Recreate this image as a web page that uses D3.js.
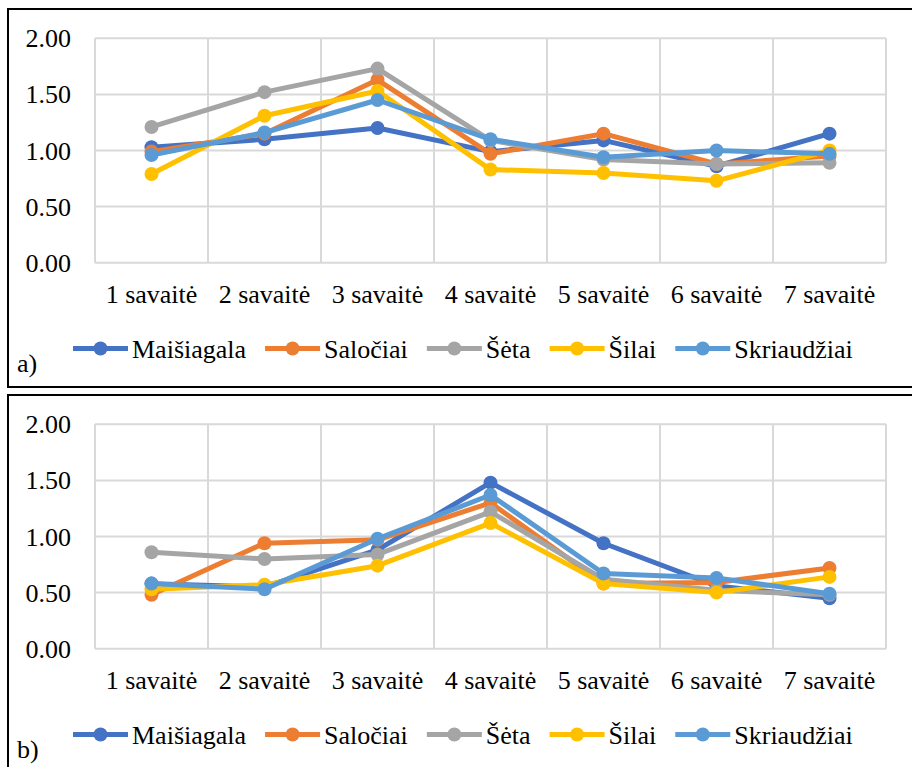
<!DOCTYPE html>
<html><head><meta charset="utf-8">
<script src="https://cdn.jsdelivr.net/npm/d3@7/dist/d3.min.js"></script>
<style>body{margin:0;background:#fff}svg{display:block}text{font-family:"Liberation Serif","Times New Roman",serif;fill:#000}</style>
</head><body><svg id="c" width="912" height="767"></svg>
<script>
const categories = ["1 savaitė","2 savaitė","3 savaitė","4 savaitė","5 savaitė","6 savaitė","7 savaitė"];
const seriesNames = ["Maišiagala","Saločiai","Šėta","Šilai","Skriaudžiai"];
const seriesColors = ["#4472C4","#ED7D31","#A5A5A5","#FFC000","#5B9BD5"];
const yTicks = [0, 0.5, 1, 1.5, 2];
const panelLabels = ["a)","b)"];

// panel a
const aMaisiagala  = [1.03, 1.10, 1.20, 0.99, 1.09, 0.86, 1.15];
const aSalociai    = [0.99, 1.15, 1.63, 0.97, 1.15, 0.88, 0.95];
const aSeta        = [1.21, 1.52, 1.73, 1.09, 0.92, 0.88, 0.89];
const aSilai       = [0.79, 1.31, 1.53, 0.83, 0.80, 0.73, 1.00];
const aSkriaudziai = [0.96, 1.16, 1.45, 1.10, 0.94, 1.00, 0.97];
// panel b
const bMaisiagala  = [0.58, 0.55, 0.88, 1.48, 0.94, 0.56, 0.45];
const bSalociai    = [0.48, 0.94, 0.97, 1.30, 0.58, 0.59, 0.72];
const bSeta        = [0.86, 0.80, 0.84, 1.22, 0.62, 0.52, 0.48];
const bSilai       = [0.53, 0.57, 0.74, 1.12, 0.58, 0.50, 0.64];
const bSkriaudziai = [0.58, 0.53, 0.98, 1.37, 0.67, 0.63, 0.49];

const panels = [
  [aMaisiagala, aSalociai, aSeta, aSilai, aSkriaudziai],
  [bMaisiagala, bSalociai, bSeta, bSilai, bSkriaudziai]
];

const svg = d3.select("#c");
const panelTops = [9, 395];
const FS = 26;

panels.forEach((data, pi) => {
  const top = panelTops[pi];
  const g = svg.append("g").attr("transform", `translate(0,${top})`);
  // frame
  g.append("rect").attr("x", 8).attr("y", 0).attr("width", 910).attr("height", pi === 0 ? 378 : 400)
    .attr("fill", "none").attr("stroke", "#000").attr("stroke-width", 2);

  const plotTop = 29.3, plotBottom = 253.7;
  const x = d3.scaleBand().domain(categories).range([95, 886]).padding(0);
  const y = d3.scaleLinear().domain([0, 2]).range([plotBottom, plotTop]);

  // gridlines
  const grid = g.append("g");
  grid.selectAll("line.h").data(yTicks).join("line")
    .attr("x1", 95).attr("x2", 886).attr("y1", d => y(d)).attr("y2", d => y(d))
    .attr("stroke", "#D9D9D9").attr("stroke-width", 2);
  const vx = categories.map(c => x(c)).concat([886]);
  grid.selectAll("line.v").data(vx).join("line")
    .attr("x1", d => d).attr("x2", d => d).attr("y1", plotTop).attr("y2", plotBottom)
    .attr("stroke", "#D9D9D9").attr("stroke-width", 2);

  // y axis labels
  const yAxis = d3.axisLeft(y).tickValues(yTicks).tickFormat(d3.format(".2f")).tickSize(0).tickPadding(0);
  const ya = g.append("g").attr("transform", "translate(71,0)").call(yAxis);
  ya.select(".domain").remove();
  ya.selectAll("text").attr("font-size", FS).attr("font-family", "Liberation Serif").attr("fill", "#000")
    .attr("dy", null).attr("y", 8.5).attr("text-anchor", "end");

  // x axis labels
  const xAxis = d3.axisBottom(x).tickSize(0).tickPadding(0);
  const xa = g.append("g").attr("transform", `translate(0,${plotBottom})`).call(xAxis);
  xa.select(".domain").remove();
  xa.selectAll("text").attr("font-size", FS).attr("font-family", "Liberation Serif").attr("fill", "#000")
    .attr("dy", null).attr("y", 40);

  const cx = c => x(c) + x.bandwidth() / 2;
  const line = d3.line().x((d, i) => cx(categories[i])).y(d => y(d));

  data.forEach((vals, si) => {
    const sg = g.append("g");
    sg.append("path").attr("d", line(vals)).attr("fill", "none")
      .attr("stroke", seriesColors[si]).attr("stroke-width", 5).attr("stroke-linejoin", "round");
    sg.selectAll("circle").data(vals).join("circle")
      .attr("cx", (d, i) => cx(categories[i])).attr("cy", d => y(d)).attr("r", 7)
      .attr("fill", seriesColors[si]);
  });

  // legend
  const ly = 339.5;
  let lx = 73;
  const lg = g.append("g");
  seriesNames.forEach((name, si) => {
    lg.append("line").attr("x1", lx).attr("x2", lx + 55).attr("y1", ly).attr("y2", ly)
      .attr("stroke", seriesColors[si]).attr("stroke-width", 5);
    lg.append("circle").attr("cx", lx + 27.5).attr("cy", ly).attr("r", 7).attr("fill", seriesColors[si]);
    const t = lg.append("text").attr("x", lx + 59).attr("y", ly + 9).attr("font-size", FS).text(name);
    lx = lx + 59 + t.node().getComputedTextLength() + 19;
  });

  g.append("text").attr("x", 17).attr("y", 362.5).attr("font-size", FS).text(panelLabels[pi]);
});
</script></body></html>
